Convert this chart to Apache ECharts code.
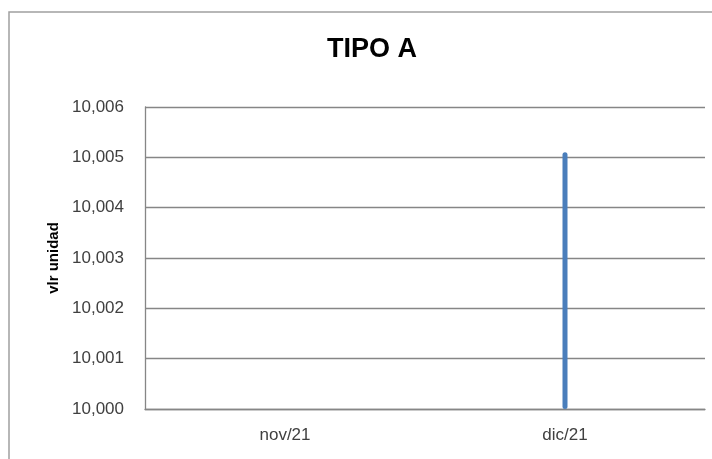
<!DOCTYPE html>
<html><head><meta charset="utf-8">
<script src="https://cdn.jsdelivr.net/npm/echarts@6/dist/echarts.min.js"></script>
<style>html,body{margin:0;padding:0;background:#fff}#c{width:712px;height:459px}</style>
</head><body><div id="c"></div>
<script>
const title = "TIPO A";
const yName = "vlr unidad";
const categories = ["nov/21", "dic/21"];
const values = [null, 10.0051];
const yMin = 10.000, yMax = 10.006, yStep = 0.001;

const chart = echarts.init(document.getElementById('c'), null, {renderer: 'canvas'});
const font = '"Liberation Sans",sans-serif';
chart.setOption({
  animation: false,
  backgroundColor: '#fff',
  graphic: [{
    type: 'rect', shape: {x: 9, y: 12, width: 740, height: 480},
    style: {fill: 'none', stroke: '#a0a0a0', lineWidth: 1.5}, silent: true
  }],
  title: {
    text: title, left: 322, top: 31,
    textStyle: {fontFamily: font, fontWeight: 'bold', fontSize: 27, color: '#000'}
  },
  grid: {left: 145, right: 7, top: 107, bottom: 50, containLabel: false},
  xAxis: {
    type: 'category', data: categories,
    axisLine: {lineStyle: {color: '#868686', width: 1.3}},
    axisTick: {show: false},
    axisLabel: {fontFamily: font, fontSize: 17, color: '#404040', margin: 18}
  },
  yAxis: {
    type: 'value', min: yMin, max: yMax, interval: yStep,
    name: yName, nameLocation: 'middle', nameGap: 84,
    nameTextStyle: {fontFamily: font, fontWeight: 'bold', fontSize: 15, color: '#000'},
    axisLine: {show: true, lineStyle: {color: '#868686', width: 1.3}},
    axisTick: {show: false},
    splitLine: {lineStyle: {color: '#868686', width: 1.3}},
    axisLabel: {fontFamily: font, fontSize: 17, color: '#404040', margin: 21,
      formatter: v => v.toFixed(3).replace('.', ',')}
  },
  series: [{
    type: 'bar', data: values, barWidth: 5,
    itemStyle: {color: '#4a7ebb', borderRadius: 2.5}
  }]
});
</script></body></html>
